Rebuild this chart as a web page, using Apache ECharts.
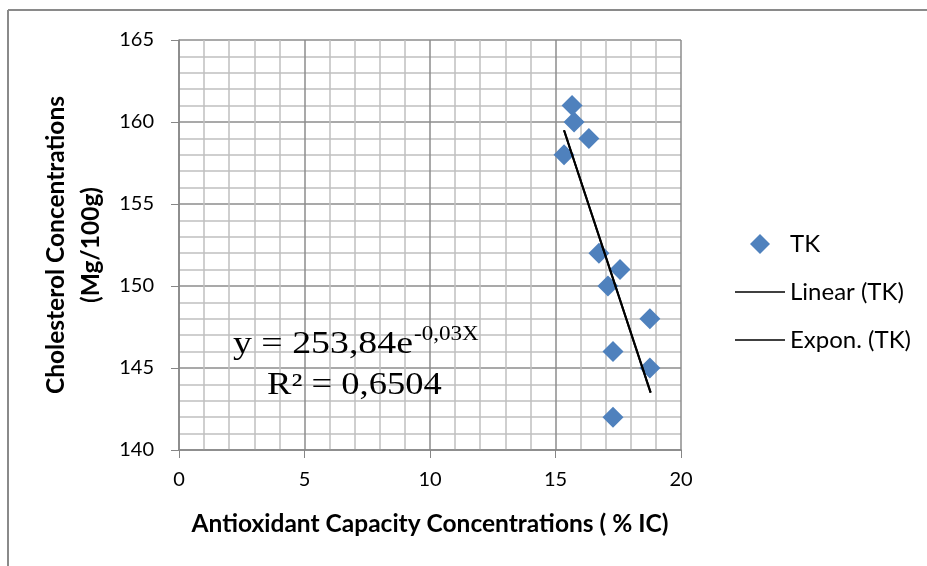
<!DOCTYPE html>
<html>
<head>
<meta charset="utf-8">
<script src="https://cdn.jsdelivr.net/npm/echarts@6/dist/echarts.min.js"></script>
<style>
    html, body { margin: 0; padding: 0; background: #fff; }
    #chart { width: 927px; height: 566px; }
</style>
</head>
<body>
<div id="chart"></div>
<script>
// 散点数据 (TK)
var tkX = [15.66, 15.74, 16.33, 15.34, 16.73, 17.57, 17.09, 18.76, 17.29, 18.76, 17.29];
var tkY = [161, 160, 159, 158, 152, 151, 150, 148, 146, 145, 142];

// 趋势线端点
var linearX = [15.34, 18.79];
var linearY = [159.5, 143.5];
var exponX = [15.34, 18.79];
var exponY = [159.5, 143.5];

var legendNames = ['TK', 'Linear (TK)', 'Expon. (TK)'];
var eqLine1 = 'y = 253,84e';
var eqSup = '-0,03X';
var eqLine2 = 'R² = 0,6504';

function pairs(xs, ys) {
    return xs.map(function (x, i) { return [x, ys[i]]; });
}

var chart = echarts.init(document.getElementById('chart'));

var labelFont = { fontFamily: 'Lato', fontSize: 20, color: '#000' };
var titleFont = { fontFamily: 'Lato', fontSize: 24.5, fontWeight: 'bold', color: '#000' };
var lineIcon = 'path://M0,0 L50,0 L50,1.6 L0,1.6 Z';
var diamondIcon = 'path://M0,-1 L1,0 L0,1 L-1,0 Z';

chart.setOption({
    animation: false,
    backgroundColor: '#fff',
    grid: { left: 179, right: 246, top: 40, bottom: 116, containLabel: false },
    legend: {
        orient: 'vertical',
        left: 730,
        top: 227,
        itemGap: 24,
        itemWidth: 50,
        itemHeight: 20,
        textStyle: { fontFamily: 'Lato', fontSize: 24, color: '#000', lineHeight: 20 },
        data: [
            { name: legendNames[0], icon: diamondIcon },
            { name: legendNames[1], icon: lineIcon },
            { name: legendNames[2], icon: lineIcon }
        ]
    },
    xAxis: {
        type: 'value',
        min: 0, max: 20, interval: 5,
        name: 'Antioxidant Capacity Concentrations ( % IC)',
        nameLocation: 'middle',
        nameGap: 62,
        nameTextStyle: titleFont,
        axisLine: { onZero: false, lineStyle: { color: '#868686', width: 1.5 } },
        axisTick: { show: true, length: 8, lineStyle: { color: '#868686' } },
        axisLabel: Object.assign({ margin: 20 }, labelFont),
        splitLine: { show: true, lineStyle: { color: '#8c8c8c', width: 1.5 } },
        minorTick: { show: false, splitNumber: 5 },
        minorSplitLine: { show: true, lineStyle: { color: '#c0c0c0', width: 1.5 } }
    },
    yAxis: {
        type: 'value',
        min: 140, max: 165, interval: 5,
        name: 'Cholesterol Concentrations\n(Mg/100g)',
        nameLocation: 'middle',
        nameGap: 64,
        nameRotate: 90,
        nameTextStyle: Object.assign({ lineHeight: 35 }, titleFont),
        axisLine: { show: true, onZero: false, lineStyle: { color: '#868686', width: 1.5 } },
        axisTick: { show: true, length: 8, lineStyle: { color: '#868686' } },
        axisLabel: Object.assign({ margin: 25 }, labelFont),
        splitLine: { show: true, lineStyle: { color: '#8c8c8c', width: 1.5 } },
        minorTick: { show: false, splitNumber: 5 },
        minorSplitLine: { show: true, lineStyle: { color: '#c0c0c0', width: 1.5 } }
    },
    series: [
        {
            name: legendNames[0],
            type: 'scatter',
            symbol: 'diamond',
            symbolSize: 21,
            itemStyle: { color: '#4f81bd', opacity: 1 },
            data: pairs(tkX, tkY),
            z: 3
        },
        {
            name: legendNames[1],
            type: 'line',
            symbol: 'none',
            lineStyle: { color: '#000', width: 2 },
            itemStyle: { color: '#000' },
            data: pairs(linearX, linearY),
            z: 4
        },
        {
            name: legendNames[2],
            type: 'line',
            symbol: 'none',
            lineStyle: { color: '#000', width: 2 },
            itemStyle: { color: '#000' },
            data: pairs(exponX, exponY),
            z: 4
        }
    ],
    graphic: [
        // 外框
        { type: 'line', shape: { x1: 8, y1: 10, x2: 927, y2: 10 }, style: { stroke: '#8a8a8a', lineWidth: 2 } },
        { type: 'line', shape: { x1: 8, y1: 10, x2: 8, y2: 566 }, style: { stroke: '#8a8a8a', lineWidth: 2 } },
        // 公式
        {
            type: 'text', x: 233, y: 329, scaleX: 1.22, z: 10,
            style: { text: eqLine1, font: '31px "Liberation Serif"', fill: '#000' }
        },
        {
            type: 'text', x: 414, y: 324, scaleX: 1.1, z: 10,
            style: { text: eqSup, font: '21px "Liberation Serif"', fill: '#000' }
        },
        {
            type: 'text', x: 267, y: 370, scaleX: 1.18, z: 10,
            style: { text: eqLine2, font: '31px "Liberation Serif"', fill: '#000' }
        }
    ]
});
</script>
</body>
</html>
